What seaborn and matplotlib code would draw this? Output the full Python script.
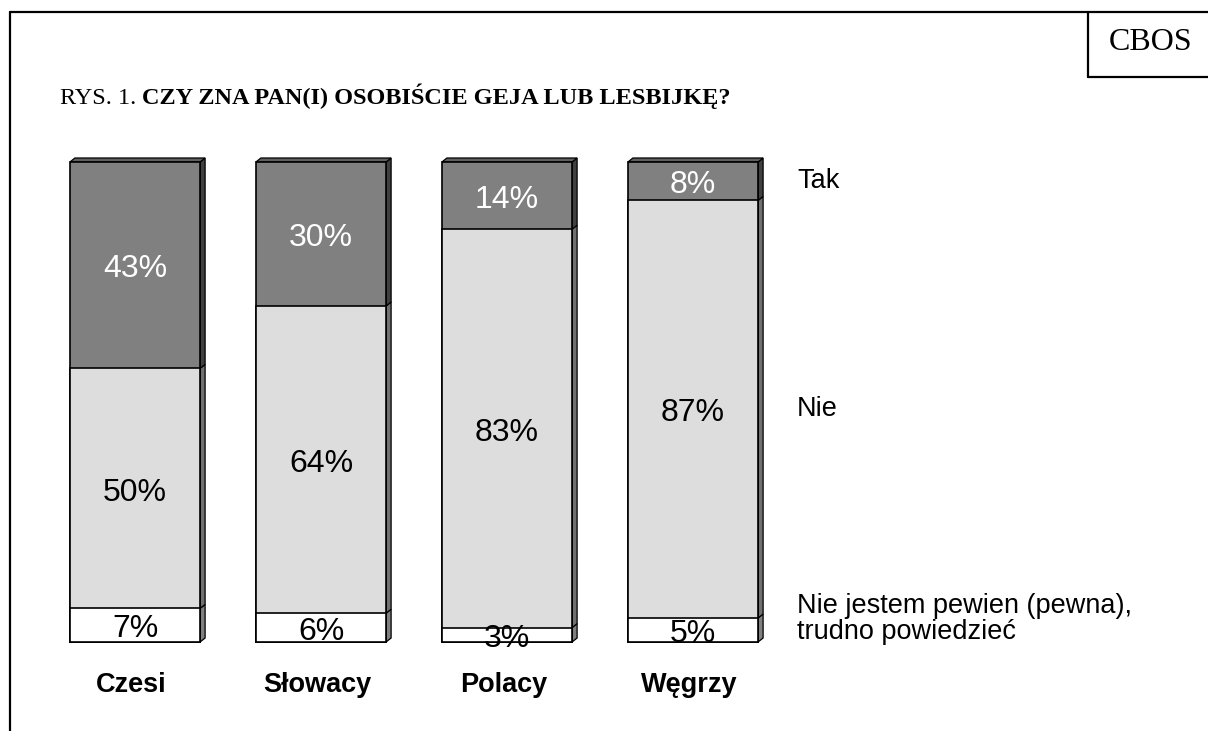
import numpy as np
import pandas as pd
import matplotlib.pyplot as plt
import seaborn as sns
from matplotlib.patches import Polygon
from matplotlib.lines import Line2D

sns.set_style("white")
plt.rcParams['font.family'] = ['Liberation Sans', 'DejaVu Sans']
plt.rcParams['text.color'] = 'black'

# dane z wykresu
kraje = ['Czesi', 'Słowacy', 'Polacy', 'Węgrzy']
nie_wiem = [7, 6, 3, 5]
nie = [50, 64, 83, 87]
tak = [43, 30, 14, 8]
etykiety = ['Tak', 'Nie', 'Nie jestem pewien (pewna),\ntrudno powiedzieć']

kolory = ['#808080', '#dddddd', '#ffffff']   # tak, nie, nie wiem
boki = ['#404040', '#707070', '#808080']
kolor_gora = '#606060'

df = pd.DataFrame({'kraj': kraje, 'nie_wiem': nie_wiem, 'nie': nie, 'tak': tak})
df['c1'] = df['nie_wiem']
df['c2'] = df['c1'] + df['nie']
df['c3'] = df['c2'] + df['tak']

W, H = 1208, 731
fig = plt.figure(figsize=(W / 100, H / 100), dpi=100)
ax = fig.add_axes([42 / W, (H - 642) / H, 744 / W, 480 / H])

szer = 0.7
for kol, c in zip(['c3', 'c2', 'c1'], kolory):
    sns.barplot(data=df, x='kraj', y=kol, color=c, saturation=1, width=szer,
                edgecolor='black', linewidth=1.2, ax=ax, zorder=3)
for p in ax.patches:
    p.set_clip_on(False)

ax.set_xlim(-0.5, 3.5)
ax.set_ylim(0, 100)
ax.axis('off')

# efekt 3D - boczne sciany i gora
dx = 5 / 186
dy = 4 / 4.8
for i in range(len(kraje)):
    xr = i + szer / 2
    xl = i - szer / 2
    granice = [0, df['c1'][i], df['c2'][i], df['c3'][i]]
    for j, bok in enumerate([boki[2], boki[1], boki[0]]):
        lo, hi = granice[j], granice[j + 1]
        ax.add_patch(Polygon([(xr, lo), (xr + dx, lo + dy), (xr + dx, hi + dy), (xr, hi)],
                             closed=True, facecolor=bok, edgecolor='black', linewidth=0.9,
                             clip_on=False, zorder=2))
    top = granice[-1]
    ax.add_patch(Polygon([(xl, top), (xl + dx, top + dy), (xr + dx, top + dy), (xr, top)],
                         closed=True, facecolor=kolor_gora, edgecolor='black', linewidth=0.9,
                         clip_on=False, zorder=2))

# etykiety procentowe
for i in range(len(kraje)):
    segs = [(0, nie_wiem[i]), (df['c1'][i], nie[i]), (df['c2'][i], tak[i])]
    for lo, v in segs:
        kol = 'white' if (lo == df['c2'][i]) else 'black'
        ax.annotate(f'{v}%', (i, lo + v / 2), xytext=(0, -3), textcoords='offset points',
                    ha='center', va='center', fontsize=23, color=kol, zorder=5,
                    annotation_clip=False)
    ax.text(i - 0.02, -9, kraje[i], ha='center', va='center', fontsize=19.5,
            fontweight='bold', clip_on=False)

# opisy po prawej
fig.text(797 / W, 1 - 181 / H, etykiety[0], ha='left', va='center', fontsize=19.5)
fig.text(797 / W, 1 - 409 / H, etykiety[1], ha='left', va='center', fontsize=19.5)
fig.text(797 / W, 1 - 619 / H, etykiety[2], ha='left', va='center', fontsize=19.5,
         linespacing=1.0)

# tytul
t1 = fig.text(60 / W, 1 - 104 / H, 'RYS. 1. ', ha='left', va='baseline', fontsize=17.5,
              family='Liberation Serif')
ax.annotate('CZY ZNA PAN(I) OSOBIŚCIE GEJA LUB LESBIJKĘ?', xy=(1, 0), xycoords=t1,
            ha='left', va='bottom', fontsize=17.5, fontweight='bold',
            family='Liberation Serif', annotation_clip=False)

# ramka i CBOS
fig.add_artist(Line2D([10 / W, 10 / W], [0, 1 - 12 / H], color='black', linewidth=1.6))
fig.add_artist(Line2D([10 / W, 1], [1 - 12 / H, 1 - 12 / H], color='black', linewidth=1.6))
fig.add_artist(Line2D([1088 / W, 1088 / W], [1 - 12 / H, 1 - 77 / H], color='black', linewidth=1.6))
fig.add_artist(Line2D([1088 / W, 1], [1 - 77 / H, 1 - 77 / H], color='black', linewidth=1.6))
fig.text(1151 / W, 1 - 43 / H, 'CBOS', ha='center', va='center', fontsize=23,
         family='Liberation Serif')

fig.savefig('out.png', dpi=100)
